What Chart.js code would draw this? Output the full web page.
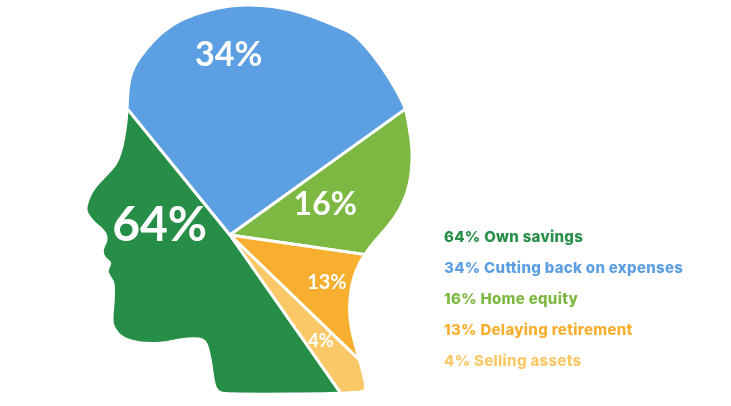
<!DOCTYPE html>
<html>
<head>
<meta charset="utf-8">
<script src="https://cdn.jsdelivr.net/npm/chart.js@4.4.1/dist/chart.umd.min.js"></script>
<style>
  html, body { margin: 0; padding: 0; background: #fff; }
  #wrap { position: relative; width: 731px; height: 406px; overflow: hidden; }
  #chart { position: absolute; left: 0; top: 0; }
  #legend { position: absolute; left: 444px; top: 221px; font-family: Inter, "Open Sans", sans-serif; font-weight: 800; font-size: 15px; letter-spacing: 0.3px; }
  #legend div { height: 31px; line-height: 31px; white-space: pre; }
</style>
</head>
<body>
<div id="wrap">
  <canvas id="chart" width="731" height="406"></canvas>
  <div id="legend"></div>
</div>
<script>
// --- data ---
const categories = ["Own savings", "Cutting back on expenses", "Home equity", "Delaying retirement", "Selling assets"];
const shares = [64, 34, 16, 13, 4];
const colors = ["#268e47", "#5c9fe2", "#7cb842", "#f8ae2f", "#fbc868"];

// label styling per slice: font px, distance from pie centre, turn from mid-angle (deg)
const labelSizes = [48, 34, 32, 20, 18];
const labelDist = [71, 180, 100, 108, 140];
const labelTurn = [45, -8, -4, 0, 0];

// pie centre inside the canvas
const CX = 230, CY = 235;

// head silhouette used as clip (decoration only)
const headOutline = [
  [117,165],[122,153],[125,140],[128,120],[129,100],[130,83],[135,67],[147,50],[163,33],[183,20],
  [207,12],[230,7],[257,6],[287,10],[313,18],[337,28],[353,35],[370,53],[387,77],[400,100],
  [405,112],[408,130],[411,150],[410,173],[406,192],[398,210],[388,224],[380,233],[368,247],
  [358,262],[352,277],[348,297],[348,320],[353,343],[360,367],[365,387],[362,392],[225,393],
  [218,390],[215,383],[212,360],[208,343],[203,338],[195,337],[180,338],[163,342],[140,342],
  [123,337],[115,328],[113,320],[115,300],[115,283],[112,278],[108,272],[110,267],[112,262],
  [105,257],[103,250],[107,243],[108,237],[105,230],[95,222],[88,213],[87,207],[92,193],
  [100,183],[110,173]
];

function headPath(ctx) {
  const n = headOutline.length;
  const mid = (a, b) => [(a[0] + b[0]) / 2, (a[1] + b[1]) / 2];
  ctx.beginPath();
  let start = mid(headOutline[n - 1], headOutline[0]);
  ctx.moveTo(start[0], start[1]);
  for (let i = 0; i < n; i++) {
    const p = headOutline[i];
    const m = mid(p, headOutline[(i + 1) % n]);
    ctx.quadraticCurveTo(p[0], p[1], m[0], m[1]);
  }
  ctx.closePath();
}

const headClip = {
  id: "headClip",
  beforeDatasetsDraw(chart) {
    const ctx = chart.ctx;
    ctx.save();
    headPath(ctx);
    ctx.clip();
  },
  afterDatasetsDraw(chart) {
    const ctx = chart.ctx;
    ctx.restore();
    // percentage labels
    const meta = chart.getDatasetMeta(0);
    meta.data.forEach((arc, i) => {
      const p = arc.getProps(["x", "y", "startAngle", "endAngle"], true);
      const a = (p.startAngle + p.endAngle) / 2 + labelTurn[i] * Math.PI / 180;
      const x = p.x + Math.cos(a) * labelDist[i];
      const y = p.y + Math.sin(a) * labelDist[i];
      ctx.save();
      ctx.fillStyle = "#fff";
      ctx.font = `bold ${labelSizes[i]}px Lato, sans-serif`;
      ctx.textAlign = "center";
      ctx.textBaseline = "middle";
      ctx.fillText(shares[i] + "%", x, y);
      ctx.restore();
    });
  }
};

const W = 731, H = 406;
new Chart(document.getElementById("chart"), {
  type: "pie",
  data: {
    labels: categories,
    datasets: [{
      data: shares,
      backgroundColor: colors,
      borderColor: "#fff",
      borderWidth: 3,
      clip: false
    }]
  },
  options: {
    responsive: false,
    animation: false,
    radius: 330,
    rotation: 145,
    layout: { padding: { left: 0, top: 2 * CY - H, right: W - 2 * CX, bottom: 0 } },
    plugins: { legend: { display: false }, tooltip: { enabled: false } }
  },
  plugins: [headClip]
});

// legend
const legendEl = document.getElementById("legend");
categories.forEach((c, i) => {
  const row = document.createElement("div");
  row.style.color = colors[i];
  row.textContent = shares[i] + "% " + c;
  legendEl.appendChild(row);
});
</script>
</body>
</html>
